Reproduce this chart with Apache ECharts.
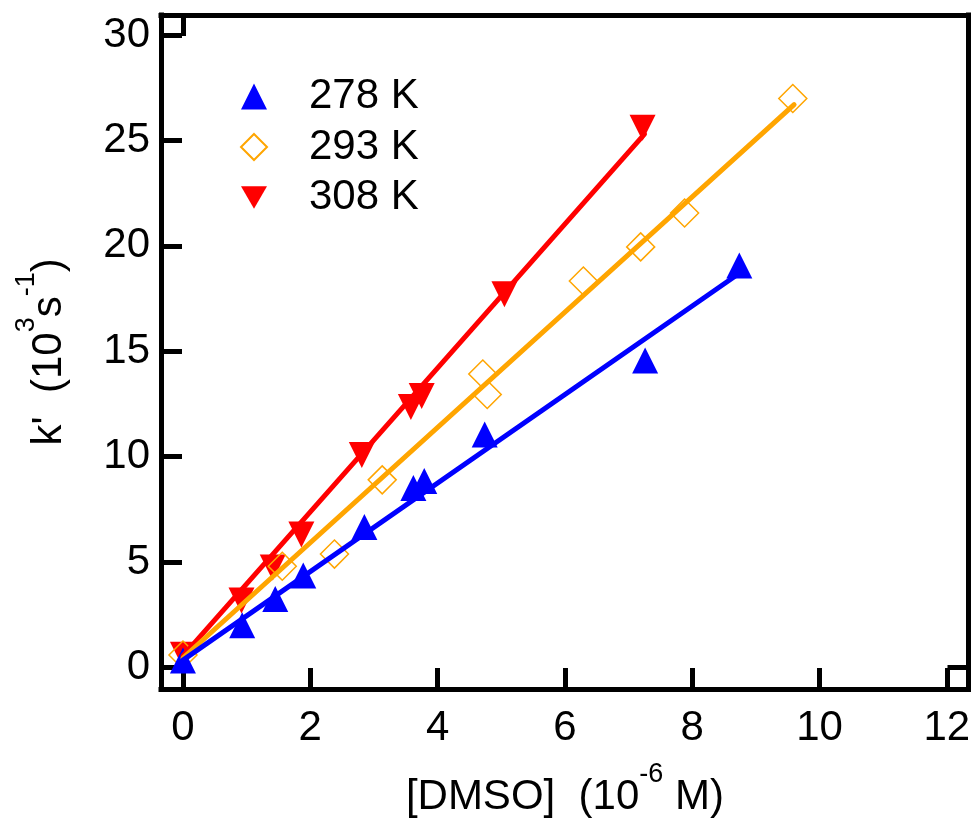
<!DOCTYPE html>
<html>
<head>
<meta charset="utf-8">
<script src="https://cdn.jsdelivr.net/npm/echarts@6/dist/echarts.min.js"></script>
<style>html,body{margin:0;padding:0;background:#fff;}#chart{width:974px;height:822px;}</style>
</head>
<body>
<div id="chart"></div>
<script>
// ---- data ----
const seriesNames = ['278 K', '293 K', '308 K'];

const x278 = [0, 0.93, 1.45, 1.89, 2.85, 3.62, 3.79, 4.74, 7.26, 8.74];
const y278 = [0.33, 2.0, 3.25, 4.36, 6.66, 8.51, 8.85, 11.05, 14.56, 19.07];

const x293 = [0, 1.56, 2.38, 3.13, 4.71, 4.78, 6.29, 7.19, 7.88, 9.58];
const y293 = [0.59, 4.8, 5.38, 8.9, 13.92, 12.95, 18.33, 19.95, 21.56, 26.99];

const x308 = [0, 0.92, 1.41, 1.86, 2.81, 3.58, 3.75, 5.05, 7.22];
const y308 = [0.61, 3.18, 4.74, 6.31, 10.08, 12.36, 12.88, 17.7, 25.6];

// linear fit lines (end points)
const fitX278 = [0, 8.74];
const fitY278 = [0.35, 18.7];
const fitX293 = [0, 9.6];
const fitY293 = [0.45, 26.7];
const fitX308 = [0, 7.25];
const fitY308 = [0.55, 25.3];

const xTicks = [0, 2, 4, 6, 8, 10, 12];
const yTicks = [0, 5, 10, 15, 20, 25, 30];

const zip = (xs, ys) => xs.map((x, i) => [x, ys[i]]);

const FONT = 'Liberation Sans';
const BLUE = '#0000ff', ORANGE = '#ffa500', RED = '#ff0000';
const DOWN_TRI = 'path://M0,0L2,0L1,1.732Z';

const richName = {
  n: {fontSize: 42, lineHeight: 42, verticalAlign: 'bottom', fontFamily: FONT, color: '#000'},
  s: {fontSize: 27, lineHeight: 27, verticalAlign: 'top', fontFamily: FONT, color: '#000'},
  h: {fontSize: 1, lineHeight: 57, verticalAlign: 'top', fontFamily: FONT, color: '#000'}
};

const axisLineStyle = {color: '#000', width: 5, cap: 'square'};
const tickStyle = {color: '#000', width: 5};
const labelStyle = {fontSize: 42, fontFamily: FONT, color: '#000'};

const chart = echarts.init(document.getElementById('chart'), null, {renderer: 'canvas'});
chart.setOption({
  animation: false,
  backgroundColor: '#fff',
  grid: {left: 161, right: 5.5, top: 15, bottom: 133, containLabel: false, outerBoundsMode: 'none'},
  legend: {
    orient: 'vertical',
    left: 240, top: 75.5, padding: 0,
    itemWidth: 26, itemHeight: 26, itemGap: 8.5,
    data: seriesNames,
    textStyle: {fontSize: 42, fontFamily: FONT, color: '#000', padding: [0, 0, 0, 37]},
    selectedMode: false
  },
  xAxis: [{
    type: 'value', position: 'bottom', min: -0.345, max: 12.34,
    axisLine: {show: true, onZero: false, lineStyle: axisLineStyle},
    axisTick: {show: true, inside: true, length: 21, lineStyle: tickStyle, customValues: xTicks},
    axisLabel: Object.assign({margin: 18, customValues: xTicks}, labelStyle),
    splitLine: {show: false},
    name: '{h| }{n|[DMSO]  (10}{s|-6}{n| M)}',
    nameLocation: 'middle', nameGap: 72,
    nameTextStyle: {rich: richName}
  }, {
    type: 'value', position: 'top', min: -0.345, max: 12.34,
    axisLine: {show: true, onZero: false, lineStyle: axisLineStyle},
    axisTick: {show: true, inside: true, length: 21, lineStyle: tickStyle, customValues: [0]},
    axisLabel: {show: false},
    splitLine: {show: false}
  }],
  yAxis: [{
    type: 'value', position: 'left', min: -1.02, max: 30.95,
    axisLine: {show: true, onZero: false, lineStyle: axisLineStyle},
    axisTick: {show: true, inside: true, length: 21, lineStyle: tickStyle, customValues: yTicks},
    axisLabel: Object.assign({margin: 11, customValues: yTicks}, labelStyle),
    splitLine: {show: false},
    name: "{h| }{n|k'  (10}{s|3}{n|s}{s|-1}{n|)}",
    nameLocation: 'middle', nameGap: 91,
    nameTextStyle: {rich: richName}
  }, {
    type: 'value', position: 'right', min: -1.02, max: 30.95,
    axisLine: {show: true, onZero: false, lineStyle: axisLineStyle},
    axisTick: {show: true, inside: true, length: 21, lineStyle: tickStyle, customValues: [0]},
    axisLabel: {show: false},
    splitLine: {show: false}
  }],
  series: [
    {name: 'fit308', type: 'line', data: zip(fitX308, fitY308), showSymbol: false, symbol: 'none',
     lineStyle: {color: RED, width: 5, cap: 'round'}, silent: true},
    {name: '308 K', type: 'scatter', data: zip(x308, y308), symbol: DOWN_TRI, symbolSize: 26,
     itemStyle: {color: RED, opacity: 1}},
    {name: 'fit293', type: 'line', data: zip(fitX293, fitY293), showSymbol: false, symbol: 'none',
     lineStyle: {color: ORANGE, width: 5, cap: 'round'}, silent: true},
    {name: '293 K', type: 'scatter', data: zip(x293, y293), symbol: 'diamond', symbolSize: 28,
     itemStyle: {color: 'rgba(255,255,255,0)', borderColor: ORANGE, borderWidth: 1.5, opacity: 1}},
    {name: 'fit278', type: 'line', data: zip(fitX278, fitY278), showSymbol: false, symbol: 'none',
     lineStyle: {color: BLUE, width: 5, cap: 'round'}, silent: true},
    {name: '278 K', type: 'scatter', data: zip(x278, y278), symbol: 'triangle', symbolSize: 26,
     itemStyle: {color: BLUE, opacity: 1}}
  ]
});
</script>
</body>
</html>
